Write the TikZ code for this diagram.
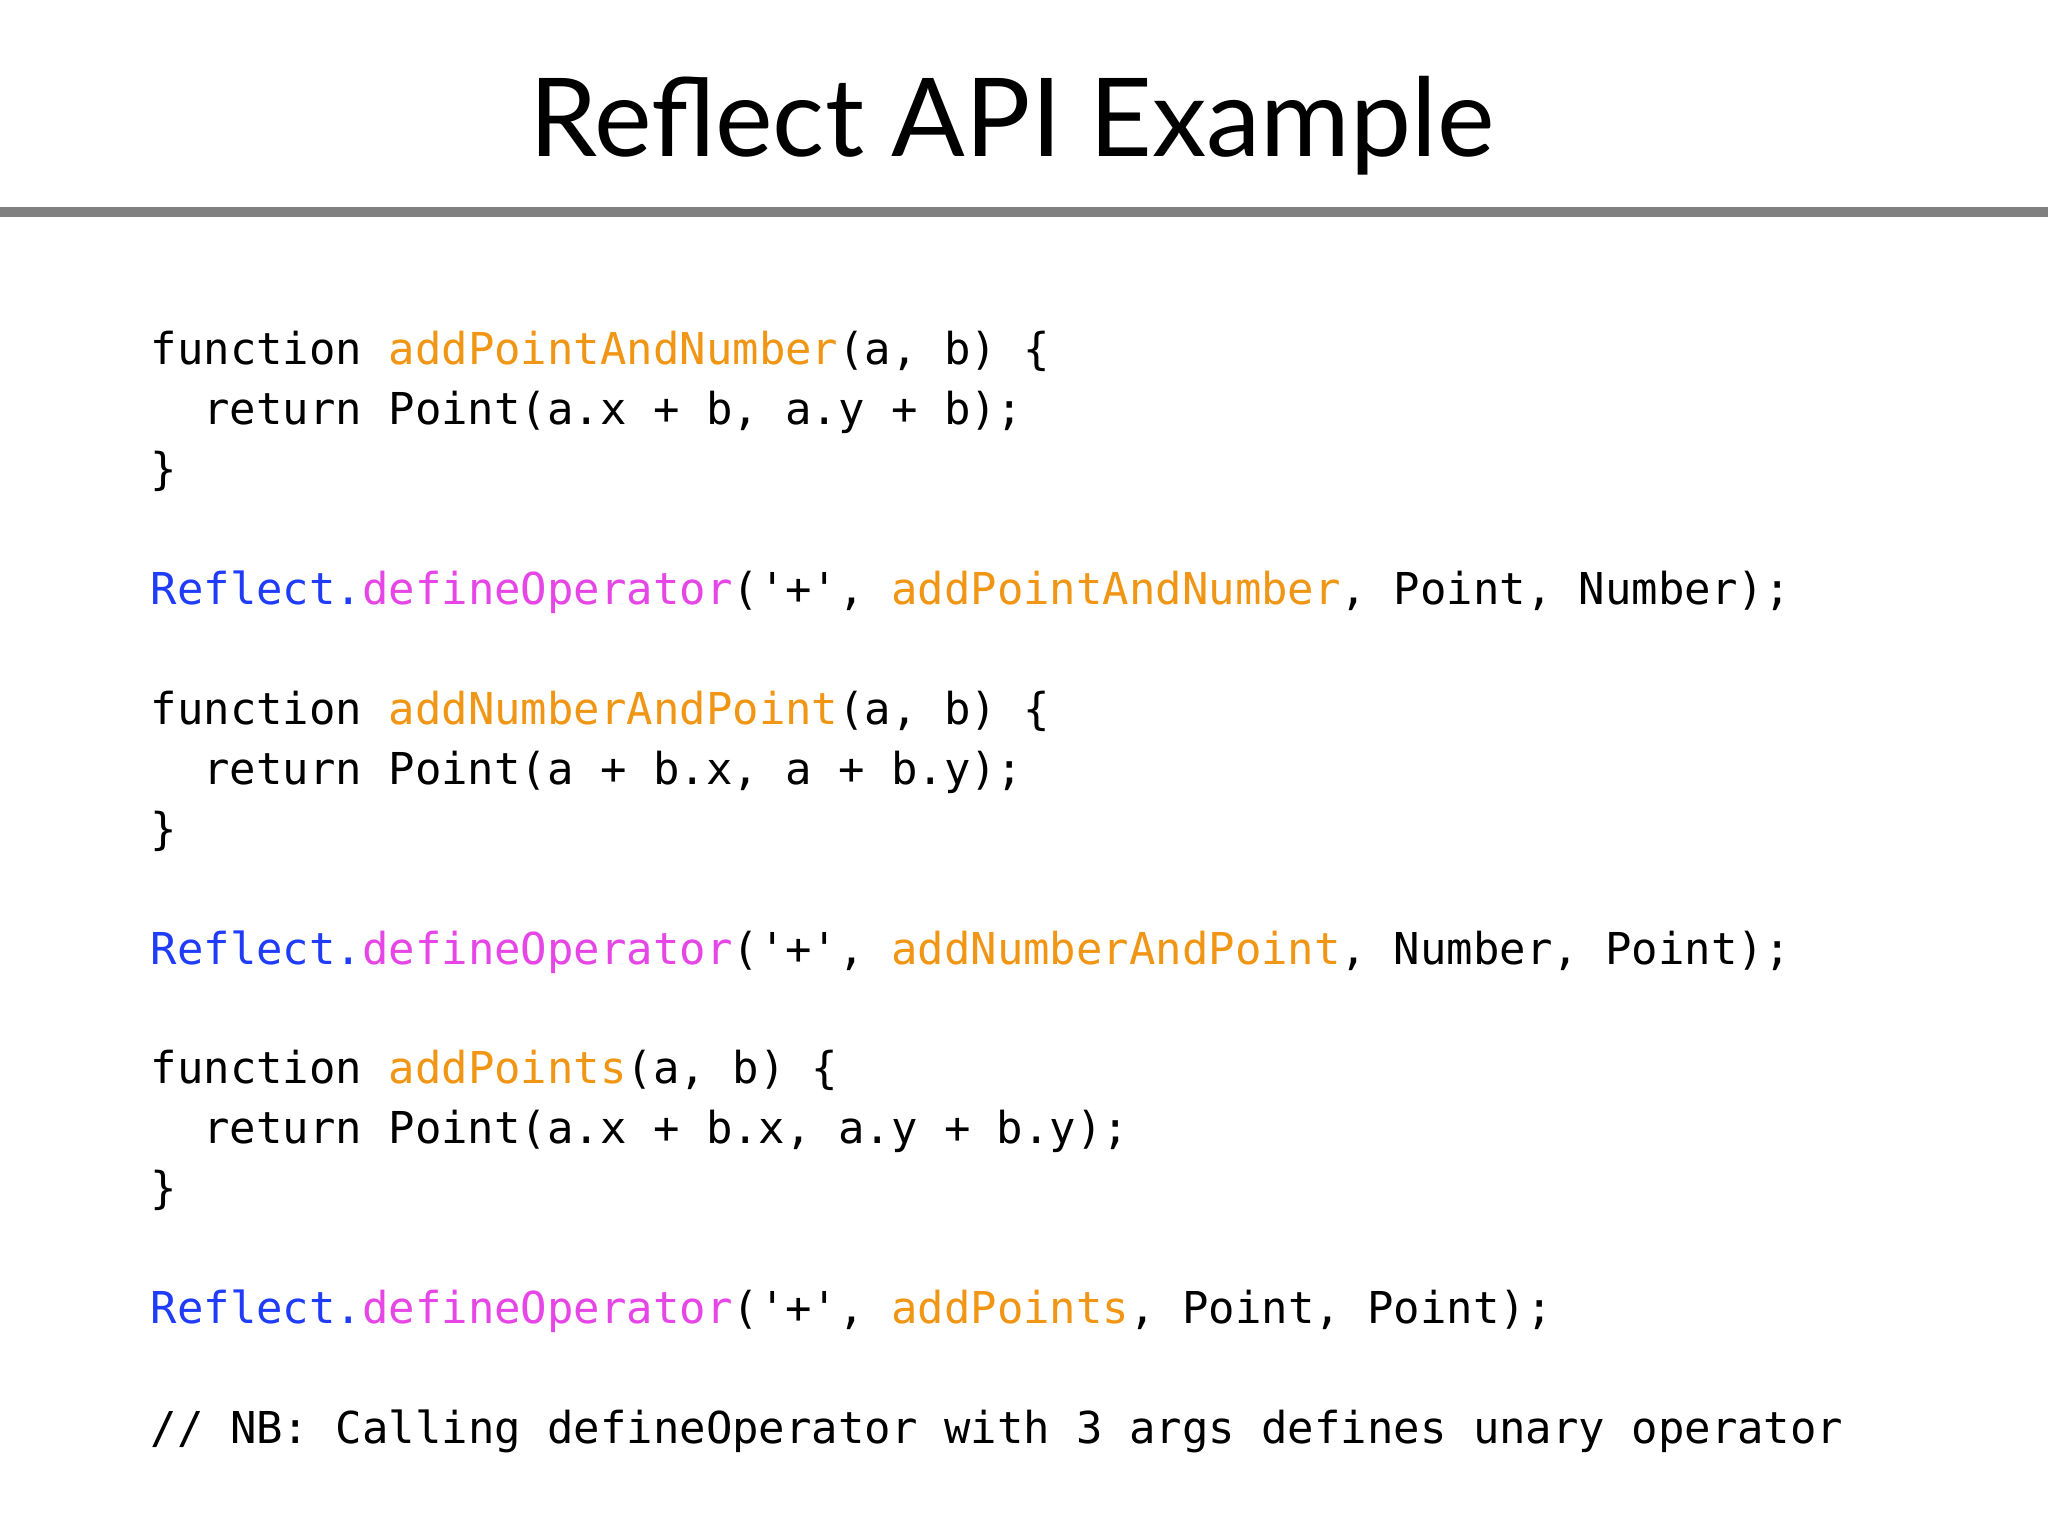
\documentclass[tikz,border=0pt]{standalone}
\usepackage{fontspec}
\setmainfont{Lato}
\setmonofont{DejaVu Sans Mono}
\definecolor{kwblue}{RGB}{30,60,250}
\definecolor{fnmag}{RGB}{230,70,230}
\definecolor{idorange}{RGB}{240,150,20}
\newcommand{\cB}[1]{\textcolor{kwblue}{#1}}
\newcommand{\cM}[1]{\textcolor{fnmag}{#1}}
\newcommand{\cO}[1]{\textcolor{idorange}{#1}}
\begin{document}
\begin{tikzpicture}[x=1cm,y=1cm,
  code/.style={anchor=base west,inner sep=0pt,font=\fontsize{12.5pt}{14pt}\ttfamily}]
\useasboundingbox[fill=white] (0,0) rectangle (20.48,-15.36);
\node[anchor=base,inner sep=0pt,font=\fontsize{31pt}{36pt}\selectfont] (title) at (10.12,-1.57) {Reflect API Example};
\draw[line width=3pt,color=black!50] (0,-2.12) -- (20.48,-2.12);
\node[code] (l1) at (1.50,-3.65) {function \cO{addPointAndNumber}(a, b) \{};
\node[code] (l2) at (2.028,-4.25) {return Point(a.x + b, a.y + b);};
\node[code] (l3) at (1.50,-4.85) {\}};
\node[code] (l4) at (1.50,-6.04) {\cB{Reflect.}\cM{defineOperator}('+', \cO{addPointAndNumber}, Point, Number);};
\node[code] (l5) at (1.50,-7.24) {function \cO{addNumberAndPoint}(a, b) \{};
\node[code] (l6) at (2.028,-7.84) {return Point(a + b.x, a + b.y);};
\node[code] (l7) at (1.50,-8.44) {\}};
\node[code] (l8) at (1.50,-9.64) {\cB{Reflect.}\cM{defineOperator}('+', \cO{addNumberAndPoint}, Number, Point);};
\node[code] (l9) at (1.50,-10.83) {function \cO{addPoints}(a, b) \{};
\node[code] (l10) at (2.028,-11.43) {return Point(a.x + b.x, a.y + b.y);};
\node[code] (l11) at (1.50,-12.03) {\}};
\node[code] (l12) at (1.50,-13.23) {\cB{Reflect.}\cM{defineOperator}('+', \cO{addPoints}, Point, Point);};
\node[code] (l13) at (1.50,-14.43) {// NB: Calling defineOperator with 3 args defines unary operator};
\end{tikzpicture}
\end{document}
